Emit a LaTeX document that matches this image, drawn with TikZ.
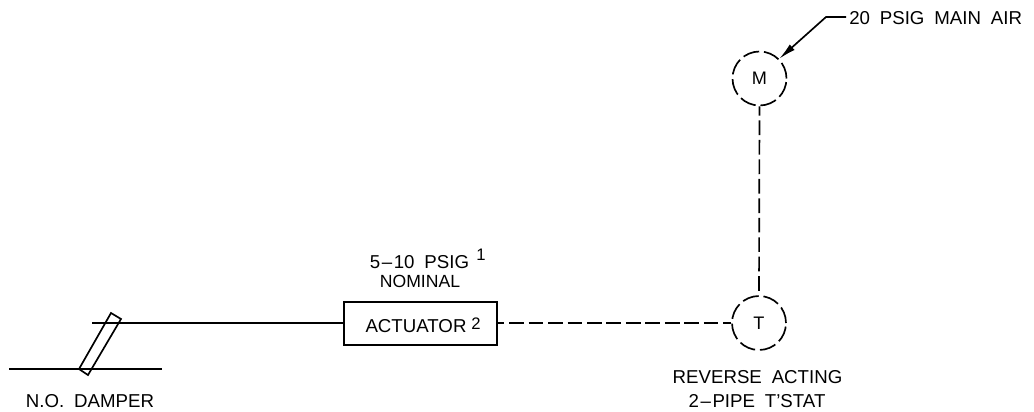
\documentclass[tikz,border=0pt]{standalone}
\usepackage{fontspec}
\setmainfont{Liberation Sans}[WordSpace=1.9]
\usetikzlibrary{arrows.meta}
\newcommand{\wdash}{\kern1.2pt–\kern1.2pt}
\tikzset{
  x=0.75pt,y=-0.75pt,
  wire/.style={line width=1.25pt,black},
  dashwire/.style={wire,dash pattern=on 11pt off 3.6pt},
  dial/.style={circle,draw,line width=1.25pt,dash pattern=on 12.4pt off 3.6pt,minimum size=40.5pt,inner sep=0pt,font=\fontsize{13.6pt}{15pt}\selectfont},
  lab/.style={inner sep=0pt,anchor=base,font=\fontsize{14pt}{15pt}\selectfont},
  sup/.style={inner sep=0pt,anchor=base west,font=\fontsize{12.5pt}{13pt}\selectfont},
  box/.style={draw,line width=1.25pt,minimum width=114.5pt,minimum height=32.4pt,inner sep=0pt},
}
\begin{document}
\begin{tikzpicture}
\useasboundingbox (0,0) rectangle (1034,411);
\node[box] (act) at (420.5,323.4) {};
\node[lab] (acttext) at (416,332) {ACTUATOR};
\node[sup] (acttwo) at (471,329) {2};
\node[dial] (m) at (759.5,78.5) {M};
\node[dial] (t) at (759,323) {T};
\coordinate (ductL) at (9,369);
\coordinate (ductR) at (162,369);
\coordinate (shaft) at (92,323);
\draw[wire] (ductL) -- (ductR);
\draw[wire] (shaft) -- (act.west |- shaft);
\draw[wire] (111,313) -- (121,319) -- (88,375) -- (79,369) -- cycle;
\draw[dashwire,dash phase=4pt] (m.south) -- (t.north);
\draw[dashwire,dash phase=6pt] (act.east |- t.west) -- (t.west);
\node[lab,anchor=base west] (air) at (849,24) {20 PSIG MAIN AIR};
\coordinate (elbow) at (826,17);
\draw[wire,-{Latex[length=13pt,width=5.5pt]}] (air.west |- elbow) ++(-3,0) -- (elbow) -- (m.45);
\node[lab] (psig) at (419.5,268) {5\wdash 10 PSIG};
\node[sup] (one) at (476,260) {1};
\node[lab,font=\fontsize{13.2pt}{15pt}\selectfont] (nom) at (420,287) {NOMINAL};
\node[lab] (damper) at (90,407) {N.O. DAMPER};
\node[lab] (rev) at (757.5,383) {REVERSE ACTING};
\node[lab] (pipe) at (757,407) {2\wdash PIPE T'STAT};
\end{tikzpicture}
\end{document}
